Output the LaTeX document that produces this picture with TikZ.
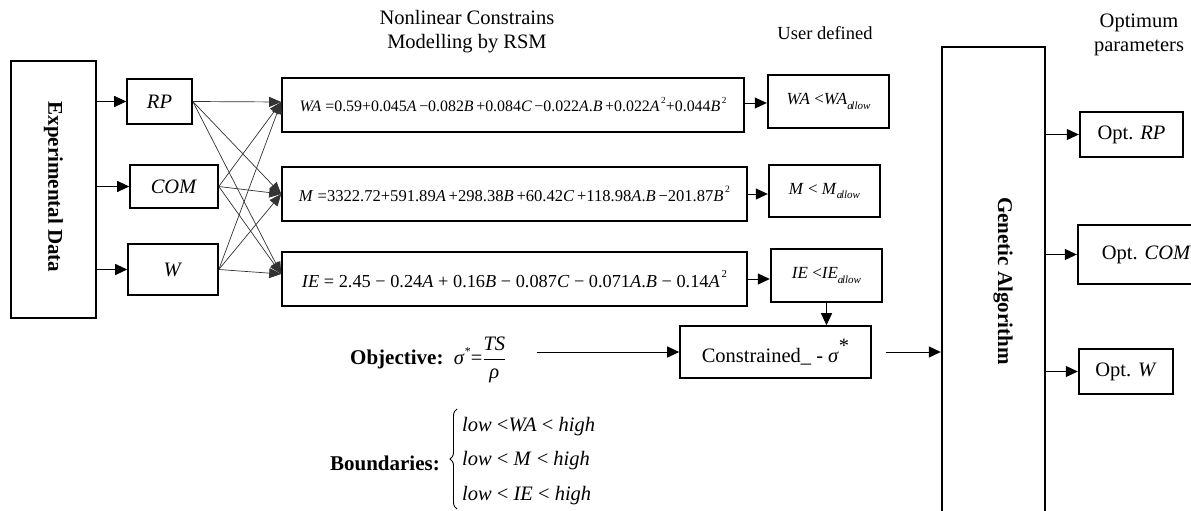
\documentclass[tikz,border=0pt]{standalone}
\usepackage{fontspec}
\usepackage{graphicx}
\setmainfont{Liberation Serif}
\usetikzlibrary{arrows.meta,calc,decorations.pathreplacing}
\newcommand\iv[1]{\textit{#1}}
\newcommand\sq{\raisebox{0.5em}{\fontsize{12}{12}\selectfont\,2}}
\newcommand\allowsub{\raisebox{-0.25em}{\fontsize{11}{11}\selectfont\textit{a\kern-0.12em llow}}}
\begin{document}
\begin{tikzpicture}[x=1pt,y=-1pt,
  every node/.style={font=\fontsize{20.5}{24}\selectfont},
  bx/.style args={#1/#2}{draw, line width=1.6pt, minimum width=#1pt, minimum height=#2pt, inner sep=0pt},
  thk/.style={line width=2.4pt},
  arr/.style={-{Triangle[length=12pt,width=11pt]}, line width=1pt},
  fan/.style={-{Triangle[length=12pt,width=10pt]}, line width=0.7pt, draw=black!80},
  lbl/.style={inner sep=0pt, align=center}]
\useasboundingbox (0,0) rectangle (1191,511);
% titles
\node[lbl] (t1) at (467,32) {Nonlinear Constrains\\Modelling by RSM};
\node[lbl, font=\fontsize{18.5}{22}\selectfont] (t2) at (825,33) {User defined};
\node[lbl] (t3) at (1139,35) {Optimum\\parameters};
% left column
\node[bx=85/257] (exp) at (53.5,189.5) {};
\node[rotate=-90, font=\fontsize{21}{24}\selectfont\bfseries, inner sep=0pt] (expt) at (53.5,187) {Experimental Data};
\node[bx=65/45] (rp) at (159.5,101.5) {\iv{RP}};
\node[bx=88/43] (com) at (174,186.5) {\iv{COM}};
\node[bx=90/51] (w) at (173,269.5) {\iv{W}};
% equations
\node[bx=462/54] (waeq) at (513,105) {\resizebox{427pt}{!}{\iv{WA} =0.59+0.045\iv{A}\,−0.082\iv{B}\,+0.084\iv{C}\,−0.022\iv{A}.\iv{B}\,+0.022\iv{A}\sq+0.044\iv{B}\sq}};
\node[bx=465/54] (meq) at (514.5,194) {\resizebox{431pt}{!}{\iv{M} =3322.72+591.89\iv{A}\,+298.38\iv{B}\,+60.42\iv{C}\,+118.98\iv{A}.\iv{B}\,−201.87\iv{B}\sq}};
\node[bx=465/54] (ieeq) at (514.5,279) {\resizebox{425pt}{!}{\iv{IE} = 2.45 − 0.24\iv{A} + 0.16\iv{B} − 0.087\iv{C} − 0.071\iv{A}.\iv{B} − 0.14\iv{A}\sq}};
% user defined
\node[bx=121/53, thk] (wau) at (828.5,101.5) {\fontsize{17}{20}\selectfont\iv{WA} <\iv{WA}\allowsub};
\node[bx=111/52, thk] (mu) at (824.5,191) {\fontsize{17}{20}\selectfont\iv{M} < \iv{M}\allowsub};
\node[bx=111/53, thk] (ieu) at (826.5,275.5) {\fontsize{17}{20}\selectfont\iv{IE} <\iv{IE}\allowsub};
\node[bx=191/52] (con) at (775.5,352) {Constrained\_ - \iv{σ}\raisebox{0.5em}{*}};
% objective and boundaries
\node[inner sep=0pt, anchor=west] (obj) at (350,360) {\fontsize{21}{24}\selectfont\bfseries Objective:\ \ \normalfont\fontsize{20.5}{24}\selectfont\iv{σ}\raisebox{0.45em}{\fontsize{12}{12}\selectfont*}=$\displaystyle\frac{\hbox{\iv{TS}}}{\hbox{\iv{ρ}}}$};
\node[inner sep=0pt, anchor=east] (bndl) at (440,463) {\fontsize{21}{24}\selectfont\bfseries Boundaries:};
\node[inner sep=0pt, anchor=west] (bnd) at (462,459) {\renewcommand{\arraystretch}{1.45}\begin{tabular}{@{}l@{}}\iv{low} <\iv{WA} < \iv{high}\\ \iv{low} < \iv{M} < \iv{high}\\ \iv{low} < \iv{IE} < \iv{high}\end{tabular}};
\draw[line width=0.9pt, decorate, decoration={brace, amplitude=7pt}] (457,509) -- (457,409);
% genetic algorithm
\node[bx=103/500, thk] (ga) at (993.5,297) {};
\node[rotate=-90, font=\fontsize{21}{24}\selectfont\bfseries, inner sep=0pt] (gat) at (1003,281) {Genetic Algorithm};
% outputs
\node[bx=103/45, thk] (optrp) at (1131.5,134.5) {Opt. \iv{RP}};
\node[bx=137/59, thk] (optcom) at (1146.5,254.5) {Opt. \iv{COM}};
\node[bx=94/45, thk] (optw) at (1126,371.5) {Opt. \iv{W}};
% arrows
\foreach \n in {rp,com,w} \draw[arr] (exp.east |- \n.west) -- (\n.west);
\coordinate (ta) at ([yshift=3pt]waeq.west);
\coordinate (tb) at (meq.west);
\coordinate (tc) at ([yshift=5pt]ieeq.west);
\foreach \s in {rp,com,w} \foreach \t in {ta,tb,tc} \draw[fan] (\s.east) -- (\t);
\draw[arr] ([yshift=2pt]waeq.east) -- ([yshift=2pt]waeq.east -| wau.west);
\draw[arr] (meq.east) -- (meq.east -| mu.west);
\draw[arr] (ieeq.east) -- (ieeq.east -| ieu.west);
\draw[arr] (ieu.south) -- (ieu.south |- con.north);
\draw[arr] ($(obj.east |- con.west)+(30,0)$) -- (con.west);
\draw[arr] ([xshift=14pt]con.east) -- (con.east -| ga.west);
\foreach \n in {optrp,optcom,optw} \draw[arr] (ga.east |- \n.west) -- (\n.west);
\end{tikzpicture}
\end{document}
